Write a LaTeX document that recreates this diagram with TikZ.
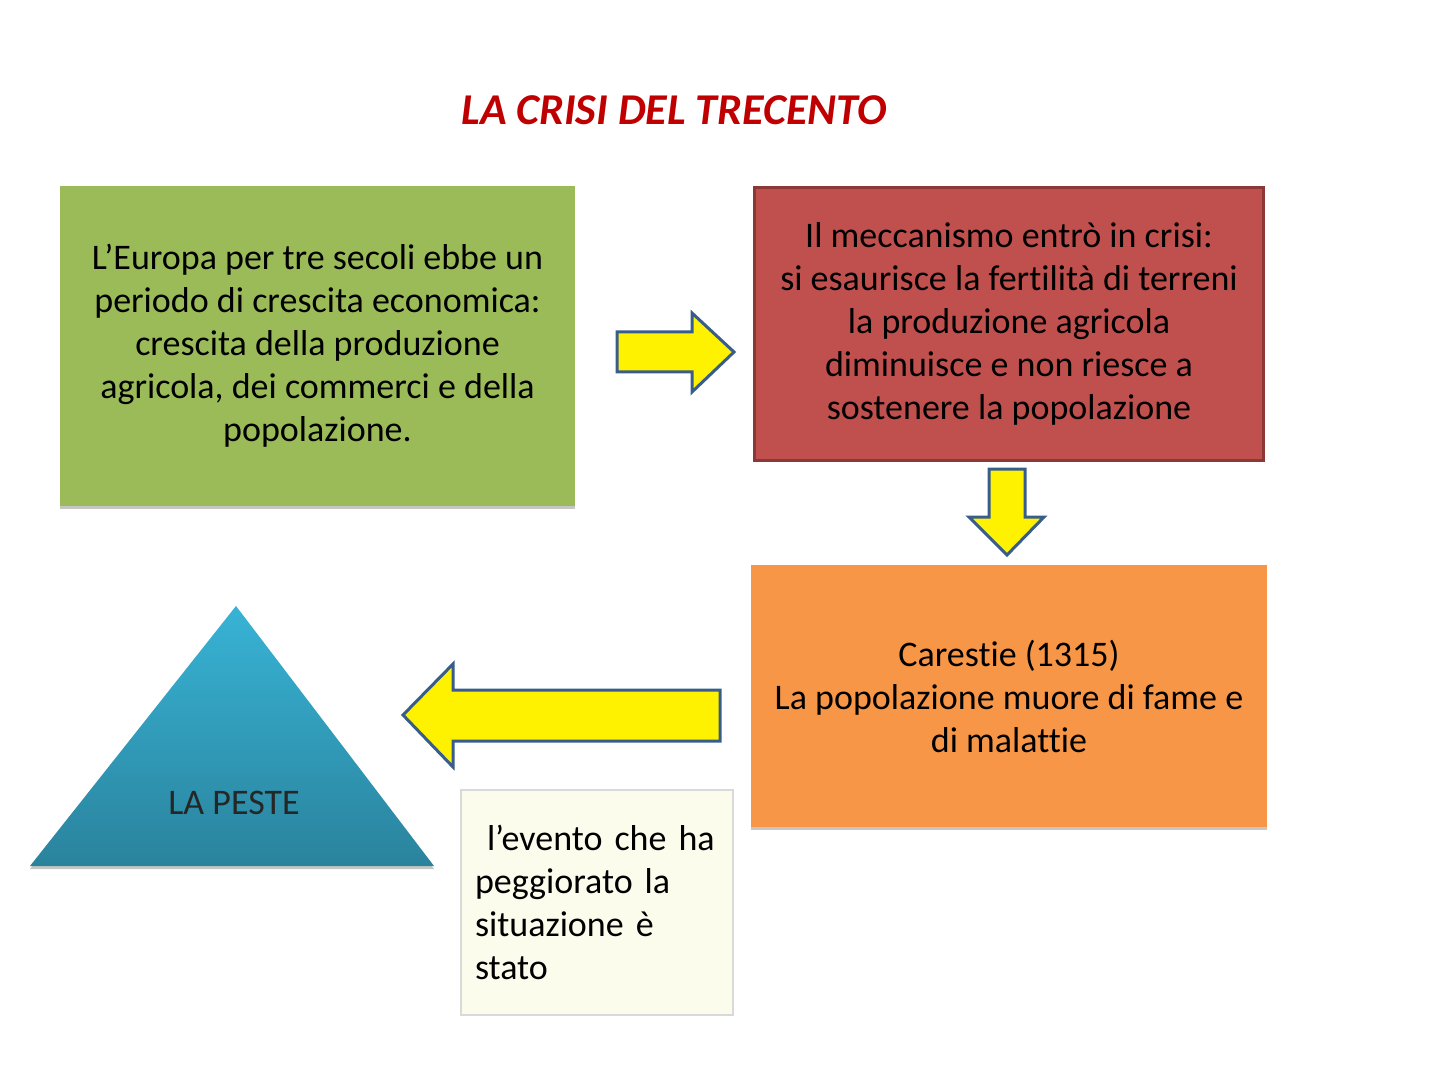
\documentclass[tikz,border=0pt]{standalone}
\usepackage{fontspec}
\setmainfont{Carlito}[Ligatures=NoCommon]
\usetikzlibrary{positioning,shadows}
\definecolor{GreenClr}{HTML}{9BBB59}
\definecolor{RedClr}{HTML}{C0504D}
\definecolor{RedLine}{HTML}{8C3836}
\definecolor{OrangeClr}{HTML}{F79646}
\definecolor{CreamClr}{HTML}{FCFCEC}
\definecolor{CreamLine}{HTML}{D9D9D9}
\definecolor{ArrowLine}{HTML}{385D8A}
\definecolor{TitleClr}{HTML}{C00000}
\definecolor{TopClr}{HTML}{38B3D5}
\definecolor{BottomClr}{HTML}{2A839D}

\begin{document}
\begin{tikzpicture}[x=0.5pt,y=-0.5pt,
  box/.style={rectangle,align=center,inner sep=0pt,font=\fontsize{18}{21.5}\selectfont},
  shadowed/.style={drop shadow={shadow xshift=0pt,shadow yshift=-1.5pt,opacity=.45,fill=gray}},
  blockarrow/.style={fill=yellow,draw=ArrowLine,line width=1.5pt,line join=miter}]
\useasboundingbox (0,0) rectangle (1440,1080);

\node[font=\fontsize{22}{26}\selectfont\bfseries\itshape,text=TitleClr] (title) at (674,110) {LA CRISI DEL TRECENTO};

% boxes
\node[box,shadowed,fill=GreenClr,minimum width=257.5pt,minimum height=159.5pt] (crescita) at (317.5,346)
  {L’Europa per tre secoli ebbe un\\periodo di crescita economica:\\crescita della produzione\\agricola, dei commerci e della\\popolazione.};
\node[box,fill=RedClr,draw=RedLine,line width=1.5pt,minimum width=254.5pt,minimum height=136.5pt] (crisi) at (1009,324)
  {Il meccanismo entrò in crisi:\\si esaurisce la fertilità di terreni\\la produzione agricola\\diminuisce e non riesce a\\sostenere la popolazione};
\node[box,shadowed,fill=OrangeClr,minimum width=258pt,minimum height=131pt] (carestie) at (1009,696)
  {Carestie (1315)\\La popolazione muore di fame e\\di malattie};
\node[box,fill=CreamClr,draw=CreamLine,line width=1pt,minimum width=136pt,minimum height=112.5pt,
  align=left,text width=122pt] (evento) at (597,902.5)
  {\ l’evento che ha\\peggiorato la\\situazione è\\stato};

% triangolo
\shade[top color=TopClr,bottom color=BottomClr,drop shadow={shadow xshift=0pt,shadow yshift=-1.5pt,opacity=.45,fill=gray}]
  (236,606) -- (434,866) -- (30,866) -- cycle;
\node[box,text=black!85] (peste) at (234,803) {LA PESTE};

% frecce
\draw[blockarrow] (617,332) -- (692,332) -- (692,313) -- (734,352) -- (692,392) -- (692,372) -- (617,372) -- cycle;
\draw[blockarrow] (989,469) -- (1025,469) -- (1025,517) -- (1044,517) -- (1007,555) -- (969,517) -- (989,517) -- cycle;
\draw[blockarrow] (720,690) -- (453,690) -- (453,664) -- (403,715) -- (453,767) -- (453,741) -- (720,741) -- cycle;

\end{tikzpicture}
\end{document}
